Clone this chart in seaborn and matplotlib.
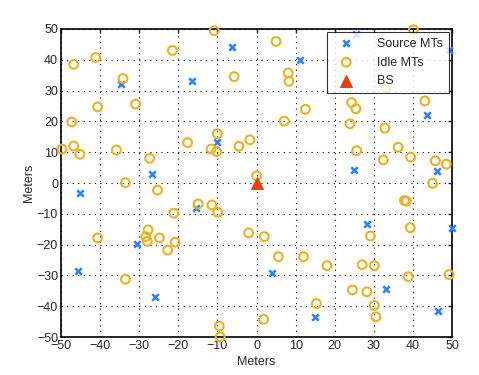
import matplotlib
matplotlib.use('Agg')
import matplotlib.pyplot as plt
import seaborn as sns
import pandas as pd

# Source MTs (x, y) in meters
source_x = [-6.3, -34.7, -16.4, -10.0, -26.8, 11.1, 25.4, 49.1, 43.5, 24.8, 46.2,
            -45.2, -15.5, -30.5, -45.6, -25.9, 28.2, 49.9, 3.9, 33.0, 15.0, 46.4]
source_y = [44.2, 32.1, 33.2, 13.3, 2.8, 39.9, 48.4, 43.0, 22.1, 4.2, 4.0,
            -3.4, -8.1, -19.7, -28.6, -37.0, -13.3, -14.5, -29.2, -34.4, -43.5, -41.6]

# Idle MTs (x, y) in meters
idle_x = [-10.8, -41.1, -46.7, -21.5, -34.1, -5.7, -40.6, -30.9, -47.2, -10.0,
          -17.6, -1.7, -4.5, -11.6, -10.2, -49.7, -46.7, -45.1, -35.8, -27.3,
          -33.5, -25.3, 0.0, 5.0, 40.1, 8.1, 8.3, 33.1, 12.5, 7.1,
          24.3, 25.4, 43.0, 23.9, 32.8, 25.6, 36.2, 39.4, 32.4, 45.7,
          48.5, 45.0, -14.9, -11.4, -9.9, -21.1, -2.0, -40.6, -27.7, -28.3,
          -27.9, -24.8, -20.8, -22.7, -33.5, -9.5, -9.3, 37.8, 38.3, 39.3,
          2.0, 29.1, 5.6, 12.0, 18.0, 27.0, 30.1, 38.8, 49.2, 24.5,
          28.2, 15.3, 30.1, 30.5, 1.8]
idle_y = [49.4, 40.7, 38.5, 43.0, 33.9, 34.5, 24.7, 25.6, 19.8, 16.0,
          13.1, 14.0, 11.9, 11.0, 10.2, 11.0, 12.0, 9.3, 10.7, 8.0,
          0.1, -2.3, 2.3, 45.9, 49.7, 35.7, 33.0, 30.8, 23.9, 20.1,
          26.1, 24.1, 26.6, 19.2, 17.8, 10.5, 11.6, 8.4, 7.5, 7.2,
          6.1, -0.1, -6.8, -7.1, -9.5, -9.8, -16.2, -17.8, -15.2, -17.4,
          -18.9, -17.8, -19.2, -21.8, -31.2, -46.4, -49.9, -5.7, -5.9, -14.5,
          -17.4, -17.2, -23.9, -23.9, -26.8, -26.5, -26.8, -30.4, -29.7, -34.7,
          -35.3, -39.1, -39.7, -43.4, -44.2]

# Base station
bs_x = [0.0]
bs_y = [0.0]

src = pd.DataFrame({'x': source_x, 'y': source_y})
idle = pd.DataFrame({'x': idle_x, 'y': idle_y})
bs = pd.DataFrame({'x': bs_x, 'y': bs_y})

sns.set_style('white')
plt.rcParams['font.family'] = ['Liberation Sans', 'DejaVu Sans']
plt.rcParams['font.size'] = 9

fig = plt.figure(figsize=(4.79, 3.75), dpi=100)
ax = fig.add_axes([0.127, 0.101, 0.817, 0.822])

sns.scatterplot(data=src, x='x', y='y', marker='x', color='#2b7fff',
                s=22, linewidth=1.8, label='Source MTs', ax=ax, zorder=3,
                clip_on=False)
sns.scatterplot(data=idle, x='x', y='y', marker='o', facecolor='none',
                edgecolor='#edb120', s=40, linewidth=1.5, label='Idle MTs',
                ax=ax, zorder=3, clip_on=False)
sns.scatterplot(data=bs, x='x', y='y', marker='^', color='#e8400f',
                edgecolor='#e8400f', s=75, label='BS', ax=ax, zorder=4)

ax.set_xlim(-50, 50)
ax.set_ylim(-50, 50)
ax.set_xticks(range(-50, 51, 10))
ax.set_yticks(range(-50, 51, 10))
ax.set_xlabel('Meters', fontsize=9, labelpad=3)
ax.set_ylabel('Meters', fontsize=9, labelpad=1)
ax.grid(True, linestyle=(0, (1, 4)), color='black', linewidth=0.8)
ax.tick_params(direction='in', length=3, width=1, labelsize=9,
               top=True, right=True, pad=2)
for sp in ax.spines.values():
    sp.set_linewidth(1.2)
    sp.set_color('black')

leg = ax.legend(loc='upper right', fontsize=9, frameon=True, fancybox=False,
                borderaxespad=0.25, handletextpad=1.4, borderpad=0.45,
                labelspacing=0.55, handlelength=2.2)
leg.get_frame().set_edgecolor('black')
leg.get_frame().set_linewidth(0.8)
leg.set_zorder(10)

fig.savefig('out.png', dpi=100)
